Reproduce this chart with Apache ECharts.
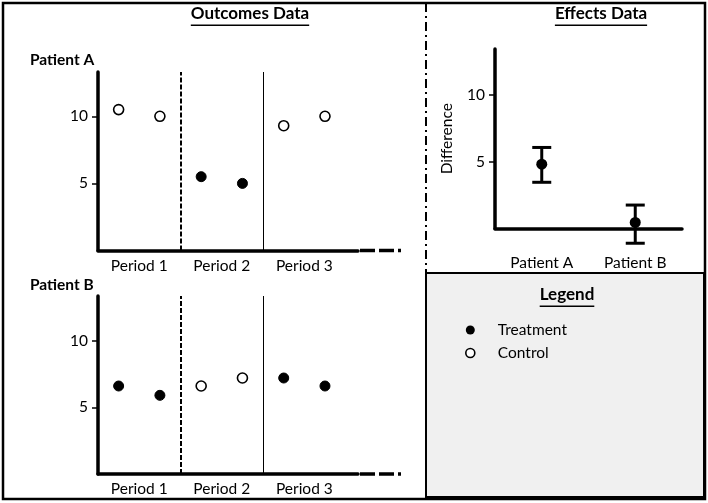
<!DOCTYPE html>
<html>
<head>
<meta charset="utf-8">
<script src="https://cdn.jsdelivr.net/npm/echarts@6/dist/echarts.min.js"></script>
<style>html,body{margin:0;padding:0;background:#fff}#c{width:708px;height:503px}</style>
</head>
<body>
<div id="c"></div>
<script>
// ---- data ----
var periodLabels = ['Period 1', 'Period 2', 'Period 3'];
var timePoints = [1, 3, 5, 7, 9, 11];
var patientAOutcome = [10.5, 10.0, 5.5, 5.0, 9.3, 10.0];
var patientACondition = ['Control', 'Control', 'Treatment', 'Treatment', 'Control', 'Control'];
var patientBOutcome = [6.6, 5.9, 6.6, 7.2, 7.2, 6.6];
var patientBCondition = ['Treatment', 'Treatment', 'Control', 'Control', 'Treatment', 'Treatment'];
var periodBoundaries = [4, 8];
var effectCategories = ['Patient A', 'Patient B'];
var effectMean = [4.8, 0.45];
var effectLow = [3.45, -1.1];
var effectHigh = [6.05, 1.75];
var yTicks = [5, 10];

var FONT = 'Lato';
var LBL = 15.5;
var chart = echarts.init(document.getElementById('c'), null, {renderer: 'canvas'});

function pts(vals, conds, which) {
  var out = [];
  for (var i = 0; i < vals.length; i++) if (conds[i] === which) out.push([timePoints[i], vals[i]]);
  return out;
}

function outcomeX(gi) {
  return {
    type: 'value', gridIndex: gi, min: 0, max: 12.6, interval: 2,
    splitLine: {show: false},
    axisLine: {show: true, onZero: false, lineStyle: {color: '#000', width: 3.5}},
    axisTick: {show: false},
    axisLabel: {
      color: '#000', fontFamily: FONT, fontSize: LBL, margin: 7,
      showMinLabel: true, showMaxLabel: false,
      formatter: function (v) { return (v % 4 === 2) ? periodLabels[(v - 2) / 4] : ''; }
    }
  };
}
function yAxisCfg(gi, max) {
  return {
    type: 'value', gridIndex: gi, min: 0, max: max, interval: 5,
    splitLine: {show: false},
    axisLine: {show: true, onZero: false, lineStyle: {color: '#000', width: 3.5}},
    axisTick: {show: true, length: 6, lineStyle: {color: '#000', width: 1.5},
      customValues: yTicks},
    axisLabel: {
      color: '#000', fontFamily: FONT, fontSize: LBL, margin: 10,
      customValues: yTicks
    }
  };
}

var markerSize = 10;
function scatter(name, gi, data, filled) {
  return {
    name: name, type: 'scatter', xAxisIndex: gi, yAxisIndex: gi,
    data: data, symbol: 'circle', symbolSize: markerSize,
    itemStyle: filled ? {color: '#000', borderColor: '#000', borderWidth: 1, opacity: 1}
                      : {color: '#fff', borderColor: '#000', borderWidth: 1.6, opacity: 1},
    emphasis: {disabled: true}, z: 5
  };
}
function dividers(gi) {
  return {
    type: 'line', xAxisIndex: gi, yAxisIndex: gi, data: [], silent: true,
    markLine: {
      symbol: 'none', silent: true, label: {show: false},
      data: [
        {xAxis: periodBoundaries[0], lineStyle: {color: '#000', width: 2, type: [5, 2]}},
        {xAxis: periodBoundaries[1], lineStyle: {color: '#000', width: 1, type: 'solid'}}
      ]
    }
  };
}

var effectData = effectCategories.map(function (c, i) { return [i, effectLow[i], effectHigh[i], effectMean[i]]; });

var option = {
  animation: false,
  backgroundColor: '#fff',
  textStyle: {fontFamily: FONT},
  grid: [
    {left: 98, top: 72, width: 260, height: 178.5},
    {left: 98, top: 296, width: 260, height: 178},
    {left: 495, top: 49, width: 187, height: 179.5}
  ],
  xAxis: [
    outcomeX(0), outcomeX(1),
    {
      type: 'category', gridIndex: 2, data: effectCategories, boundaryGap: true,
      axisLine: {show: true, lineStyle: {color: '#000', width: 3.5}},
      axisTick: {show: false},
      axisLabel: {color: '#000', fontFamily: FONT, fontSize: LBL, margin: 26}
    }
  ],
  yAxis: [
    yAxisCfg(0, 13.3), yAxisCfg(1, 13.35),
    (function () {
      var y = yAxisCfg(2, 13.4);
      y.name = 'Difference';
      y.nameLocation = 'middle';
      y.nameGap = 40;
      y.nameRotate = 90;
      y.nameTextStyle = {color: '#000', fontFamily: FONT, fontSize: LBL};
      return y;
    })()
  ],
  legend: {
    left: 460, top: 317, orient: 'vertical', itemGap: 7,
    itemWidth: 9, itemHeight: 9, selectedMode: false,
    textStyle: {color: '#000', fontFamily: FONT, fontSize: LBL, padding: [0, 0, 0, 18]},
    data: [
      {name: 'Treatment', icon: 'circle', itemStyle: {color: '#000', borderWidth: 0, opacity: 1}},
      {name: 'Control', icon: 'circle', itemStyle: {color: '#fff', borderColor: '#000', borderWidth: 1.6, opacity: 1}}
    ]
  },
  series: [
    scatter('Treatment', 0, pts(patientAOutcome, patientACondition, 'Treatment'), true),
    scatter('Control', 0, pts(patientAOutcome, patientACondition, 'Control'), false),
    scatter('Treatment', 1, pts(patientBOutcome, patientBCondition, 'Treatment'), true),
    scatter('Control', 1, pts(patientBOutcome, patientBCondition, 'Control'), false),
    dividers(0), dividers(1),
    {
      type: 'custom', xAxisIndex: 2, yAxisIndex: 2, data: effectData, clip: false, silent: true,
      renderItem: function (params, api) {
        var x = api.value(0);
        var lo = api.coord([x, api.value(1)]);
        var hi = api.coord([x, api.value(2)]);
        var mid = api.coord([x, api.value(3)]);
        var cw = 9.5;
        var st = {stroke: '#000', lineWidth: 3};
        return {
          type: 'group', children: [
            {type: 'line', shape: {x1: lo[0], y1: lo[1], x2: hi[0], y2: hi[1]}, style: st},
            {type: 'line', shape: {x1: lo[0] - cw, y1: lo[1], x2: lo[0] + cw, y2: lo[1]}, style: st},
            {type: 'line', shape: {x1: hi[0] - cw, y1: hi[1], x2: hi[0] + cw, y2: hi[1]}, style: st},
            {type: 'circle', shape: {cx: mid[0], cy: mid[1], r: 5.5}, style: {fill: '#000'}}
          ]
        };
      },
      z: 6
    }
  ]
};
chart.setOption(option);

// ---- decorations (panels, titles, underlines) ----
var ctx = document.createElement('canvas').getContext('2d');
function tw(text, size, weight) {
  ctx.font = (weight || 'normal') + ' ' + size + 'px ' + FONT;
  return ctx.measureText(text).width;
}
function underlinedTitle(text, cx, cy, size) {
  var w = tw(text, size, 'bold');
  return [
    {type: 'text', left: cx - w / 2, top: cy - size * 0.62, silent: true,
      style: {text: text, fill: '#000', font: 'bold ' + size + 'px ' + FONT}},
    {type: 'line', silent: true, shape: {x1: cx - w / 2, y1: cy + size * 0.55, x2: cx + w / 2, y2: cy + size * 0.55},
      style: {stroke: '#000', lineWidth: 1.5}}
  ];
}
var g = [
  {type: 'rect', silent: true, shape: {x: 426, y: 273, width: 278, height: 224},
    style: {fill: '#f0f0f0', stroke: '#000', lineWidth: 2}, z: -1},
  {type: 'rect', silent: true, shape: {x: 3, y: 3, width: 702, height: 496},
    style: {fill: null, stroke: '#000', lineWidth: 2.5}, z: 10},
  {type: 'line', silent: true, shape: {x1: 426, y1: 3, x2: 426, y2: 273},
    style: {stroke: '#000', lineWidth: 2, lineDash: [9, 4, 2, 4]}},
  // x-axis continuation dashes
  {type: 'line', silent: true, shape: {x1: 360, y1: 250.5, x2: 401, y2: 250.5},
    style: {stroke: '#000', lineWidth: 3.5, lineDash: [15, 4, 15, 4, 3, 100]}},
  {type: 'line', silent: true, shape: {x1: 360, y1: 474, x2: 401, y2: 474},
    style: {stroke: '#000', lineWidth: 3.5, lineDash: [15, 4, 15, 4, 3, 100]}},
  {type: 'text', left: 30, top: 52, silent: true, style: {text: 'Patient A', fill: '#000', font: 'bold 15.5px ' + FONT}},
  {type: 'text', left: 30, top: 277, silent: true, style: {text: 'Patient B', fill: '#000', font: 'bold 15.5px ' + FONT}}
];
g = g.concat(underlinedTitle('Outcomes Data', 250, 16, 17));
g = g.concat(underlinedTitle('Effects Data', 601, 16, 17));
g = g.concat(underlinedTitle('Legend', 567, 297, 17));
chart.setOption({graphic: {elements: g}});
</script>
</body>
</html>
